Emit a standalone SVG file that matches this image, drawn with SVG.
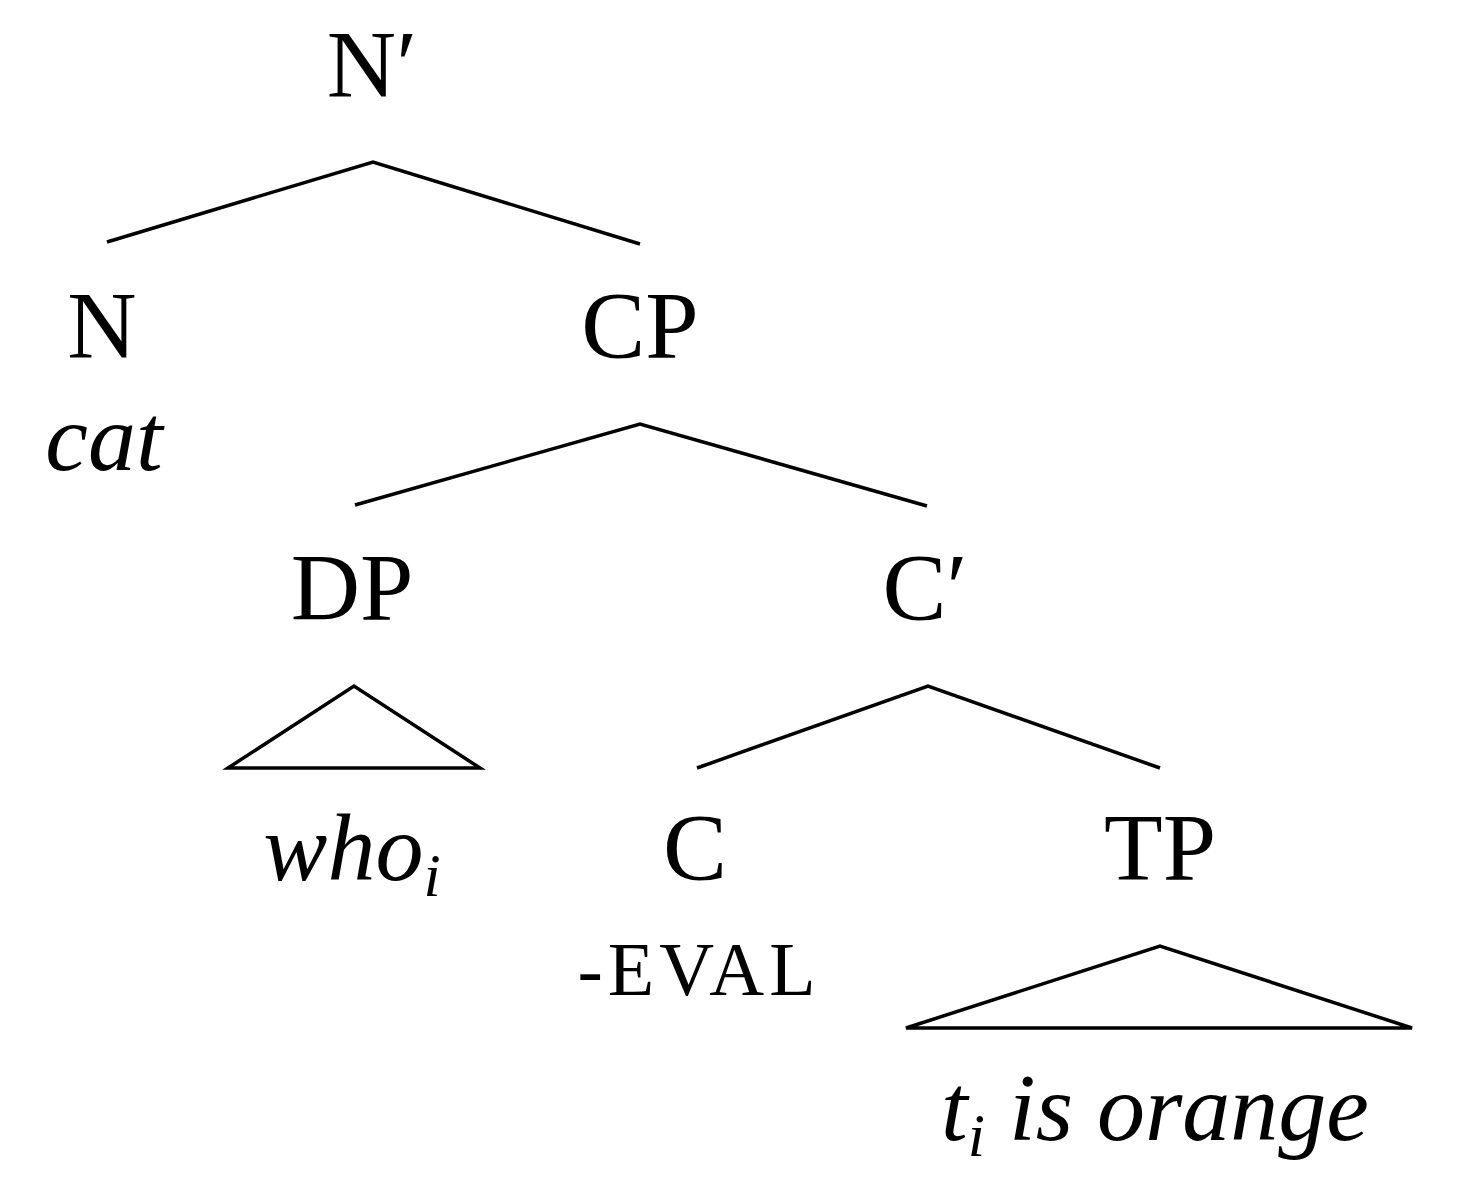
<svg xmlns="http://www.w3.org/2000/svg" width="1470" height="1184" viewBox="0 0 1470 1184">
<style>
.t{font-family:"Liberation Serif","Times New Roman",serif;font-size:96px;fill:#000;text-anchor:middle}
.i{font-style:italic}
.s{font-size:62px}
.e{font-size:76px;letter-spacing:5px}
.ln{stroke:#000;stroke-width:3.5;fill:none;stroke-linejoin:miter}
</style>
<rect width="1470" height="1184" fill="#fff"/>
<g id="connectors">
<polyline class="ln" points="107,242 373,162 640,244"/>
<polyline class="ln" points="355,505 640,424 927,506"/>
<polygon class="ln" points="228,768 354,686 480,768"/>
<polyline class="ln" points="697,768 928,686 1160,768"/>
<polygon class="ln" points="906,1028 1160,946 1412,1028"/>
</g>
<g id="nbar"><text class="t" x="372" y="97">N′</text></g>
<g id="n"><text class="t" x="102" y="358">N</text><text class="t i" x="104" y="470">cat</text></g>
<g id="cp"><text class="t" x="640" y="358">CP</text></g>
<g id="dp"><text class="t" x="352" y="620">DP</text></g>
<g id="cbar"><text class="t" x="925" y="620">C′</text></g>
<g id="who"><text class="t i" x="352" y="880">who<tspan class="s" dy="16">i</tspan></text></g>
<g id="c"><text class="t" x="695" y="880">C</text><text class="t e" x="699" y="995">-EVAL</text></g>
<g id="tp"><text class="t" x="1160" y="880">TP</text></g>
<g id="trace"><text class="t i" x="1155" y="1140">t<tspan class="s" dy="16">i</tspan><tspan dy="-16"> is orange</tspan></text></g>
</svg>
